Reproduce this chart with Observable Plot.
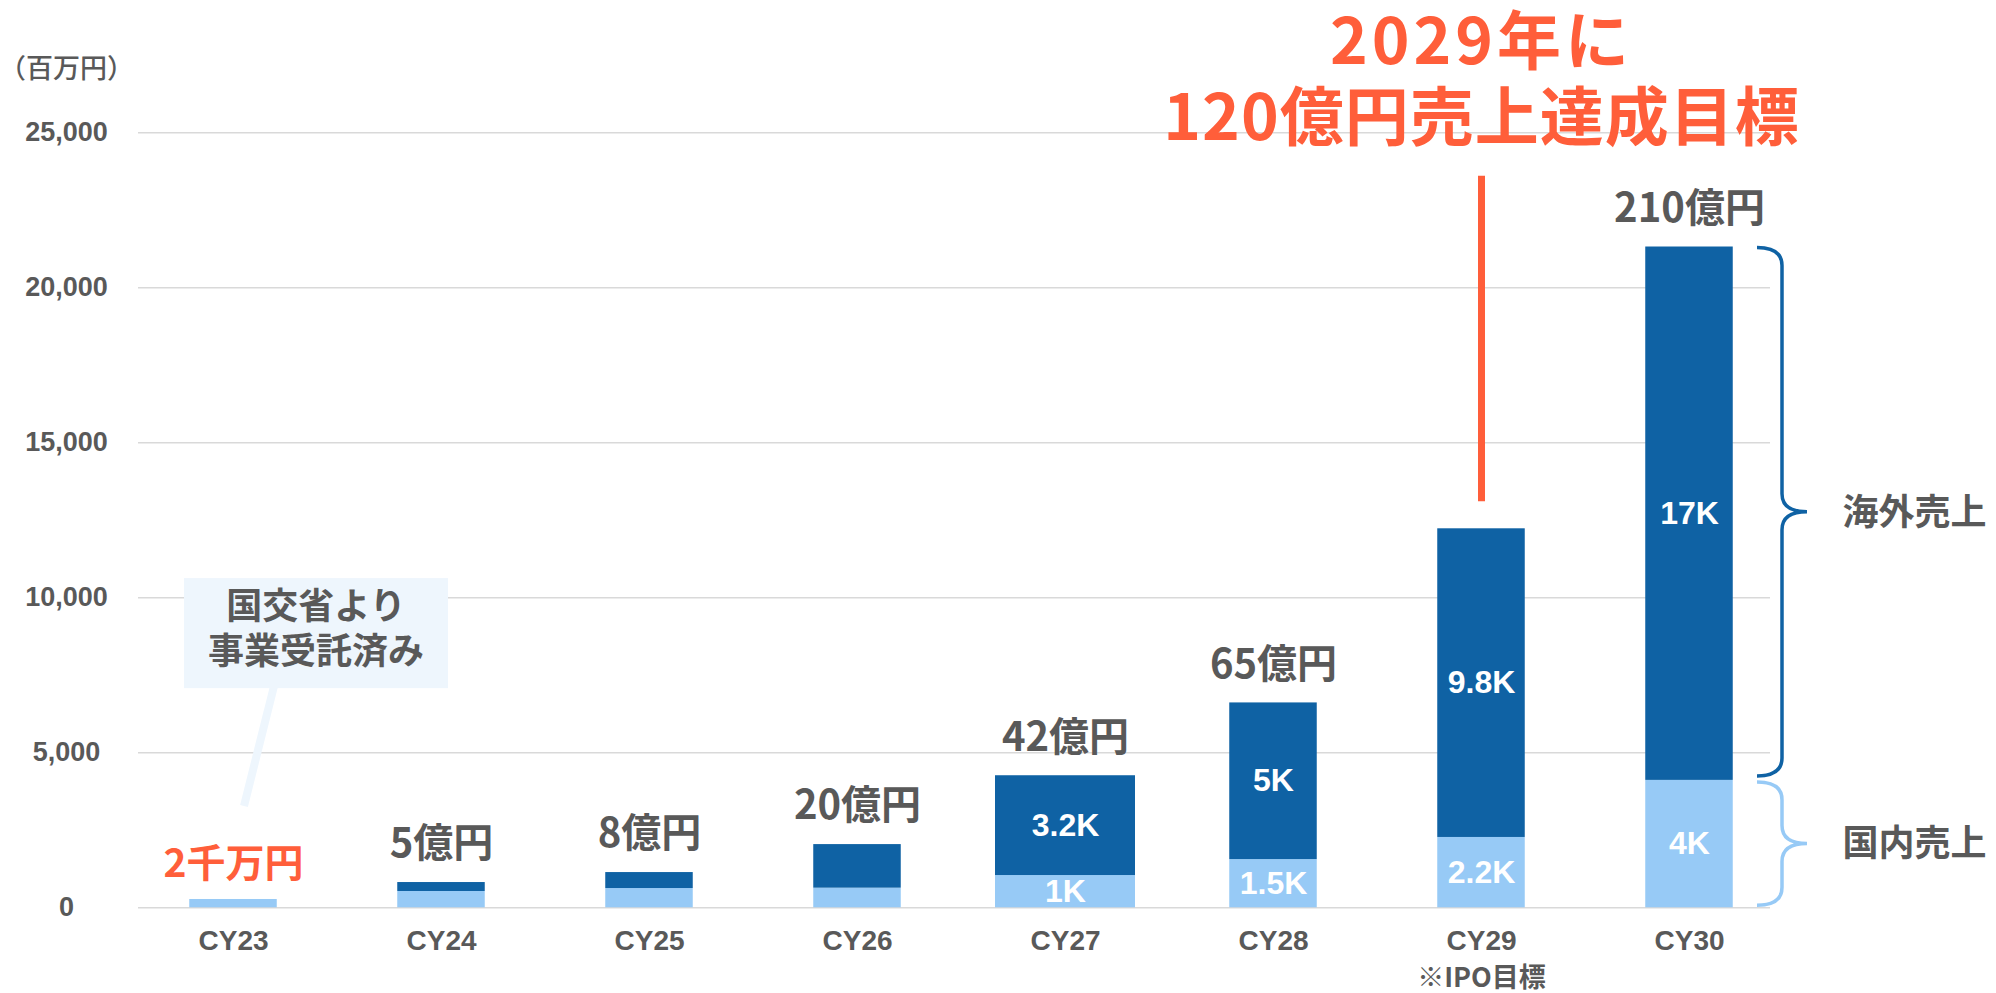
<!DOCTYPE html>
<html>
<head>
<meta charset="utf-8">
<script src="https://cdn.jsdelivr.net/npm/d3@7"></script>
<script src="https://cdn.jsdelivr.net/npm/@observablehq/plot@0.6"></script>
<style>
html, body { margin: 0; padding: 0; background: #ffffff; }
#chart { width: 1996px; height: 993px; overflow: hidden; }
</style>
</head>
<body>
<div id="chart"></div>
<script>
// ---- data (百万円) ----
const years = ["CY23", "CY24", "CY25", "CY26", "CY27", "CY28", "CY29", "CY30"];
const domestic = [268, 526, 622, 633, 1041, 1556, 2269, 4110];      // 国内売上
const overseas = [0, 289, 515, 1406, 3219, 5053, 9957, 17206];      // 海外売上
const totalLabels = ["2千万円", "5億円", "8億円", "20億円", "42億円", "65億円", "", "210億円"];
const domesticLabels = ["", "", "", "", "1K", "1.5K", "2.2K", "4K"];
const overseasLabels = ["", "", "", "", "3.2K", "5K", "9.8K", "17K"];
const segmentNames = ["国内売上", "海外売上"];
const yTicks = [0, 5000, 10000, 15000, 20000, 25000];
const unitLabel = "（百万円）";
const goalYear = "CY29";
const goalLines = ["2029年に", "120億円売上達成目標"];
const goalRule = [13100, 23600];
const ipoNote = "※IPO目標";
const calloutLines = ["国交省より", "事業受託済み"];
const calloutYear = "CY23";

// ---- styles ----
const DARK = "#0f62a4", LIGHT = "#97caf6", ORANGE = "#ff5e3a", GRAY = "#595959";
const NUM_FONT = "'Liberation Sans', Arial, sans-serif";
const JP_FONT = "'Noto Sans CJK JP', 'Noto Sans', sans-serif";

const rows = years.map((year, i) => ({
  year,
  domestic: domestic[i],
  overseas: overseas[i],
  total: domestic[i] + overseas[i],
  totalLabel: totalLabels[i],
  domesticLabel: domesticLabels[i],
  overseasLabel: overseasLabels[i],
  domesticMid: domestic[i] / 2,
  overseasMid: domestic[i] + overseas[i] / 2
}));
const long = rows.flatMap(r => [
  {year: r.year, segment: segmentNames[0], value: r.domestic},
  {year: r.year, segment: segmentNames[1], value: r.overseas}
]);

const wide = d => d.year === "CY27";
const last = rows[rows.length - 1];

const chart = Plot.plot({
  width: 1996,
  height: 993,
  marginTop: 132.3,
  marginBottom: 85.7,
  marginLeft: 138,
  marginRight: 226,
  style: {background: "#ffffff", color: GRAY},
  x: {domain: years, paddingInner: 0.325, paddingOuter: 0.1625, align: 0.5, insetLeft: -9.07, insetRight: -24.07, axis: null},
  y: {domain: [0, 25000], axis: null},
  color: {domain: segmentNames, range: [LIGHT, DARK]},
  marks: [
    Plot.gridY(yTicks, {stroke: "#d9d9d9", strokeOpacity: 1, strokeWidth: 1.5}),
    // bars
    Plot.barY(long.filter(d => !wide(d)), {x: "year", y: "value", fill: "segment", insetLeft: 26.25, insetRight: 26.25}),
    Plot.barY(long.filter(wide), {x: "year", y: "value", fill: "segment"}),
    // y tick labels
    Plot.text(yTicks, {y: d => d, text: d => d3.format(",")(d), frameAnchor: "left", dx: -72, textAnchor: "middle",
      fontSize: 27, fontWeight: "bold", fontFamily: NUM_FONT, fill: GRAY}),
    // unit
    Plot.text([unitLabel], {text: d => d, frameAnchor: "top-left", dx: -72, dy: -74, textAnchor: "middle",
      fontSize: 27, fontWeight: 500, fontFamily: JP_FONT, fill: GRAY}),
    // x labels
    Plot.text(years, {x: d => d, text: d => d, frameAnchor: "bottom", dy: 33, lineAnchor: "middle",
      fontSize: 28, fontWeight: "bold", fontFamily: NUM_FONT, fill: GRAY}),
    Plot.text([ipoNote], {x: () => goalYear, text: d => d, frameAnchor: "bottom", dy: 71, lineAnchor: "middle",
      fontSize: 27, fontWeight: "bold", fontFamily: JP_FONT, fill: GRAY}),
    // segment value labels
    Plot.text(rows, {x: "year", y: "domesticMid", text: "domesticLabel", lineAnchor: "middle",
      fontSize: 32, fontWeight: "bold", fontFamily: NUM_FONT, fill: "#ffffff"}),
    Plot.text(rows, {x: "year", y: "overseasMid", text: "overseasLabel", lineAnchor: "middle",
      fontSize: 32, fontWeight: "bold", fontFamily: NUM_FONT, fill: "#ffffff"}),
    // totals
    Plot.text(rows.slice(0, 1), {x: "year", y: "total", text: "totalLabel", dy: -35, lineAnchor: "middle",
      fontSize: 39, fontWeight: "bold", fontFamily: JP_FONT, fill: ORANGE}),
    Plot.text(rows.slice(1), {x: "year", y: "total", text: "totalLabel", dy: -38, lineAnchor: "middle",
      fontSize: 40, fontWeight: "bold", fontFamily: JP_FONT, fill: GRAY}),
    // goal annotation
    Plot.ruleX([goalYear], {x: d => d, y1: goalRule[0], y2: goalRule[1], stroke: ORANGE, strokeWidth: 7}),
    Plot.text([goalLines[0]], {x: () => goalYear, text: d => d, frameAnchor: "top", dy: -89.3, lineAnchor: "middle",
      fontSize: 64, fontWeight: "bold", fontFamily: JP_FONT, fill: ORANGE}),
    Plot.text([goalLines[1]], {x: () => goalYear, text: d => d, frameAnchor: "top", dy: -13.3, lineAnchor: "middle",
      fontSize: 64, fontWeight: "bold", fontFamily: JP_FONT, fill: ORANGE}),
    // segment names on the right
    Plot.text([last], {x: "year", y: "overseasMid", text: () => segmentNames[1], dx: 225, lineAnchor: "middle",
      fontSize: 36, fontWeight: "bold", fontFamily: JP_FONT, fill: GRAY}),
    Plot.text([last], {x: "year", y: "domesticMid", text: () => segmentNames[0], dx: 225, lineAnchor: "middle",
      fontSize: 36, fontWeight: "bold", fontFamily: JP_FONT, fill: GRAY})
  ]
});

document.getElementById("chart").appendChild(chart);

// ---- post-render annotations using Plot's own scales ----
const xs = chart.scale("x"), ys = chart.scale("y");
const center = v => xs.apply(v) + xs.bandwidth / 2;
const Y = v => ys.apply(v);
const svg = d3.select(chart);

// letter spacing for the goal title
svg.selectAll("text").filter(function () {
  return this.textContent === goalLines[1];
}).attr("letter-spacing", 1);
svg.selectAll("text").filter(function () {
  return this.textContent === goalLines[0];
}).attr("letter-spacing", 4);

// callout box (placed behind bars/text, above the grid)
const gridG = chart.querySelector("g[aria-label='y-grid']");
const cg = document.createElementNS("http://www.w3.org/2000/svg", "g");
if (gridG && gridG.nextSibling) chart.insertBefore(cg, gridG.nextSibling); else chart.appendChild(cg);
const callout = d3.select(cg);
const cx = center(calloutYear);
const boxTop = Y(10620), boxBottom = Y(7070);
callout.append("line")
  .attr("x1", cx + 41).attr("y1", boxBottom - 2)
  .attr("x2", cx + 11).attr("y2", Y(3270))
  .attr("stroke", "#eef6fd").attr("stroke-width", 8);
callout.append("rect")
  .attr("x", cx - 49).attr("y", boxTop)
  .attr("width", 264).attr("height", boxBottom - boxTop)
  .attr("fill", "#eef6fd");
callout.append("text")
  .attr("x", cx + 83).attr("text-anchor", "middle")
  .attr("font-family", JP_FONT).attr("font-weight", "bold").attr("font-size", 36).attr("fill", GRAY)
  .selectAll("tspan").data(calloutLines).join("tspan")
  .attr("x", cx + 83)
  .attr("y", (d, i) => (i === 0 ? Y(10620) + 31 : Y(10620) + 76))
  .attr("dominant-baseline", "middle")
  .text(d => d);

// braces next to the CY30 bar
const barRight = center(last.year) + 44;
function brace(yTop, yBot, color) {
  const x0 = barRight + 24, xs2 = x0 + 25, xt = xs2 + 25, r = 18;
  const ym = (yTop + yBot) / 2;
  const p = d3.path();
  p.moveTo(x0, yTop);
  p.quadraticCurveTo(xs2, yTop, xs2, yTop + r);
  p.lineTo(xs2, ym - r);
  p.quadraticCurveTo(xs2, ym, xt, ym);
  p.quadraticCurveTo(xs2, ym, xs2, ym + r);
  p.lineTo(xs2, yBot - r);
  p.quadraticCurveTo(xs2, yBot, x0, yBot);
  svg.append("path").attr("d", p.toString()).attr("fill", "none")
    .attr("stroke", color).attr("stroke-width", 3.5);
}
brace(Y(last.total) + 1, Y(last.domestic) - 4, DARK);
brace(Y(last.domestic) + 2, Y(0) - 2, LIGHT);
</script>
</body>
</html>
